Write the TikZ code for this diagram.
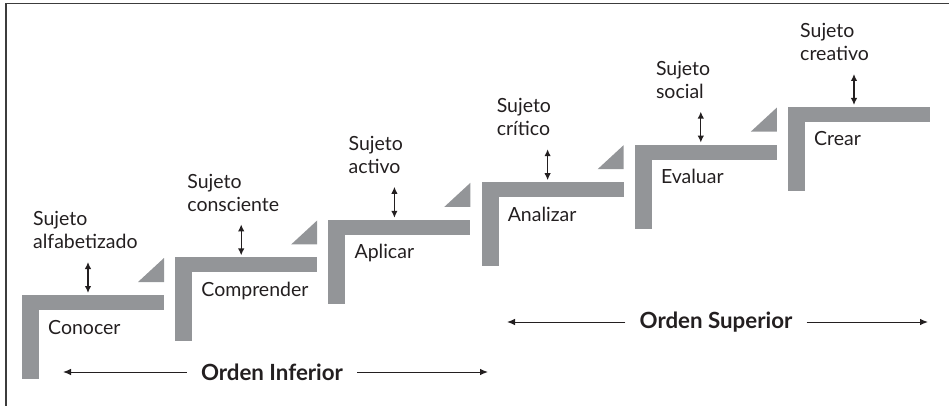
\documentclass[tikz,border=0pt]{standalone}
\usepackage{fontspec}
\setmainfont{Lato}
\usetikzlibrary{arrows.meta}

\definecolor{stepgray}{RGB}{147,149,152}
\definecolor{framegray}{RGB}{60,60,60}
\definecolor{inkblack}{RGB}{35,31,32}

\tikzset{
  stepbar/.style={fill=stepgray,draw=none},
  updown/.style={inkblack,line width=1.3pt,{Latex[length=7pt,width=6.5pt]}-{Latex[length=7pt,width=6.5pt]}},
  longtip/.style={inkblack,line width=1pt,-{Latex[length=8pt,width=6.5pt]}},
  ordentext/.style={font=\fontsize{22.3}{24}\selectfont\bfseries,text=inkblack,inner xsep=14pt,inner ysep=0pt},
}

\begin{document}
\begin{tikzpicture}[x=1pt,y=-1pt,font=\fontsize{19.5}{23}\selectfont]
    \useasboundingbox (0,0) rectangle (949,406);
    \draw[framegray,line width=1.4pt] (6,406) -- (6,3.5) -- (949,3.5);

    \foreach \i/\lvl/\subj/\lx in {0/Conocer/alfabetizado/11, 1/Comprender/consciente/12, 2/Aplicar/activo/20, 3/Analizar/crítico/15, 4/Evaluar/social/21, 5/Crear/creativo/12}{
    \pgfmathsetmacro\xo{22+153.2*\i}
    \pgfmathsetmacro\yo{295-37.6*\i}
    \fill[stepbar] (\xo,\yo) rectangle ++(142,15);    %% tread
    \fill[stepbar] (\xo,\yo) rectangle ++(17,84);     %% riser
    \node[anchor=base west,inner sep=0pt,text=inkblack] (step\i) at (\xo+26,\yo+39) {\lvl};
    \node[anchor=south west,align=left,inner sep=0pt,text=inkblack] (who\i) at (\xo+\lx,\yo-46) {Sujeto\\\subj};
    \coordinate (top\i) at (\xo+66,\yo-33);
    \coordinate (bot\i) at (\xo+66,\yo-2);
    \draw[updown] (top\i) -- (bot\i);
    }
    \foreach \i in {0,...,4}{
    \pgfmathsetmacro\xo{22+153.2*\i}
    \pgfmathsetmacro\yo{295-37.6*\i}
    \fill[stepbar] (\xo+116,\yo-13) -- (\xo+142,\yo-13) -- (\xo+142,\yo-37) -- cycle;
    }

    \node[ordentext] (inf) at (272,372) {Orden Inferior};
    \coordinate (infL) at (63,372);
    \coordinate (infR) at (488,372);
    \draw[longtip] (inf.west) -- (infL);
    \draw[longtip] (inf.east) -- (infR);

    \node[ordentext] (sup) at (716,322) {Orden Superior};
    \coordinate (supL) at (507,322);
    \coordinate (supR) at (928,322);
    \draw[longtip] (sup.west) -- (supL);
    \draw[longtip] (sup.east) -- (supR);
\end{tikzpicture}
\end{document}
